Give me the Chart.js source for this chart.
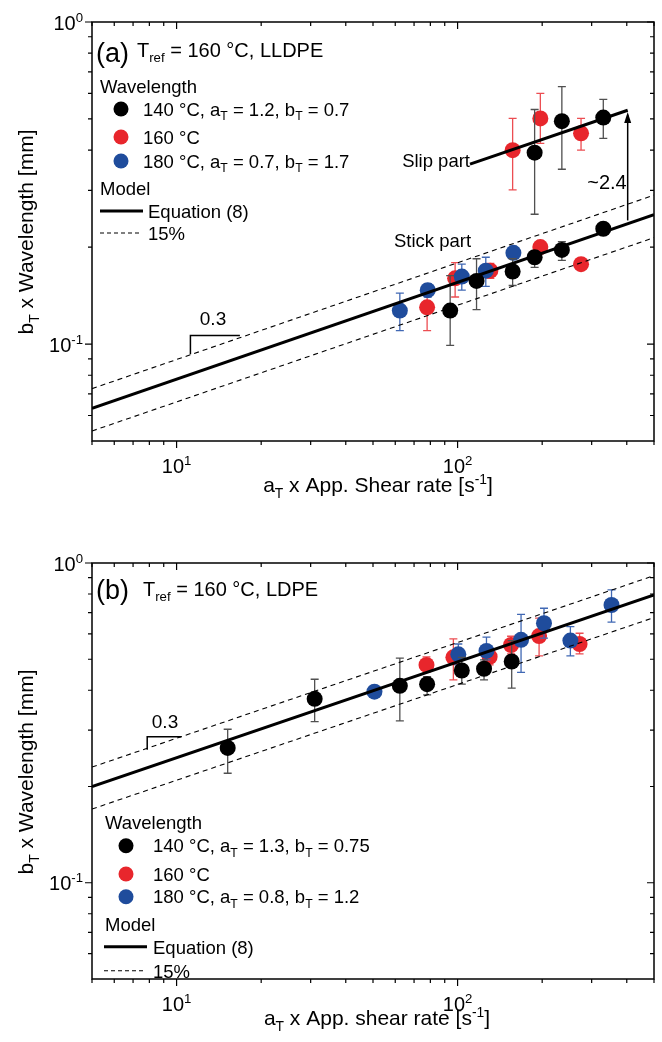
<!DOCTYPE html>
<html>
<head>
<meta charset="utf-8">
<script src="https://cdn.jsdelivr.net/npm/chart.js@4.4.1/dist/chart.umd.min.js"></script>
<style>
  body { margin: 0; background: #fff; }
  canvas { position: absolute; left: 0; }
  #chartA { top: 0; }
  #chartB { top: 520px; }
</style>
</head>
<body>
<canvas id="chartA" width="662" height="520"></canvas>
<canvas id="chartB" width="662" height="522"></canvas>
<script>
// ---- shared axes ----
const xMin = 5, xMax = 500;
const yMin = 0.05, yMax = 1;
const xMajor = [10, 100];
const xMajorExp = ['1', '2'];
const xMinor = [5, 6, 7, 8, 9, 20, 30, 40, 50, 60, 70, 80, 90, 200, 300, 400, 500];
const yMajor = [0.1, 1];
const yMajorExp = ['-1', '0'];
const yMinor = [0.06, 0.07, 0.08, 0.09, 0.2, 0.3, 0.4, 0.5, 0.6, 0.7, 0.8, 0.9];

// ---- panel (a) LLDPE ----
const a140X  = [94.1, 116.8, 157, 188, 235, 330, 188, 235, 330];
const a140Y  = [0.127, 0.157, 0.168, 0.186, 0.196, 0.228, 0.393, 0.492, 0.505];
const a140Lo = [0.099, 0.128, 0.152, 0.173, 0.182, null, 0.253, 0.349, 0.435];
const a140Hi = [0.163, 0.184, 0.184, 0.195, 0.208, null, 0.535, 0.630, 0.575];

const a160X  = [77.9, 98, 130.8, 197, 275, 157, 197, 275];
const a160Y  = [0.130, 0.160, 0.169, 0.200, 0.177, 0.400, 0.502, 0.451];
const a160Lo = [0.110, 0.140, 0.160, null, null, 0.301, 0.420, 0.400];
const a160Hi = [0.146, 0.179, 0.178, null, null, 0.502, 0.600, 0.502];

const a180X  = [62.3, 78.3, 103.5, 126, 158];
const a180Y  = [0.127, 0.147, 0.162, 0.169, 0.192];
const a180Lo = [0.110, 0.140, 0.147, 0.151, 0.186];
const a180Hi = [0.144, 0.154, 0.177, 0.186, 0.197];

const modelX  = [5, 500];
const aEqY    = [0.0632, 0.252];
const aUpY    = [0.0727, 0.290];
const aLowY   = [0.0537, 0.214];
const aSlipX  = [110.7, 403];
const aSlipY  = [0.362, 0.532];
const aArrowX = [403, 403];
const aArrowY = [0.242, 0.515];
const aSlopeX = [11.2, 11.2, 16.8];
const aSlopeY = [0.0929, 0.1064, 0.1064];

// ---- panel (b) LDPE ----
const b140X  = [15.2, 31.0, 62.3, 77.9, 103.5, 124.2, 155.8];
const b140Y  = [0.264, 0.376, 0.413, 0.418, 0.461, 0.467, 0.492];
const b140Lo = [0.220, 0.319, 0.321, 0.387, 0.418, 0.431, 0.406];
const b140Hi = [0.302, 0.433, 0.504, 0.441, 0.507, 0.498, 0.572];

const b160X  = [77.5, 96.6, 130, 155, 195, 271.7];
const b160Y  = [0.480, 0.507, 0.509, 0.554, 0.591, 0.558];
const b160Lo = [0.455, 0.431, 0.480, 0.520, 0.512, 0.520];
const b160Hi = [0.509, 0.579, 0.540, 0.590, 0.672, 0.603];

const b180X  = [50.6, 100.6, 126.7, 168.2, 203, 252, 353];
const b180Y  = [0.396, 0.518, 0.531, 0.575, 0.648, 0.572, 0.739];
const b180Lo = [null, 0.480, 0.498, 0.455, 0.582, 0.512, 0.653];
const b180Hi = [null, 0.558, 0.586, 0.691, 0.722, 0.632, 0.824];

const bEqY    = [0.200, 0.794];
const bUpY    = [0.230, 0.913];
const bLowY   = [0.170, 0.675];
const bSlopeX = [7.86, 7.86, 10.4];
const bSlopeY = [0.2604, 0.2864, 0.2864];

// ---- styling ----
const FONT = "'Liberation Sans', Arial, Helvetica, sans-serif";
const BLACK = '#000000', RED = '#e8262c', BLUE = '#1f4c9c';
const BAR_BLACK = '#505050', BAR_RED = '#ec4d52', BAR_BLUE = '#4068b4';

Chart.defaults.font.family = FONT;
Chart.defaults.color = '#000';

function pts(xs, ys) {
    return xs.map((x, i) => ({ x: x, y: ys[i] }));
}

function scatterSet(xs, ys, lo, hi, color, barColor, order) {
    return {
        data: pts(xs, ys),
        backgroundColor: color,
        borderColor: color,
        pointRadius: 8,
        pointHoverRadius: 8,
        pointBorderWidth: 0,
        order: order,
        errLo: lo,
        errHi: hi,
        barColor: barColor
    };
}

function lineSet(xs, ys, width, dash, order) {
    return {
        data: pts(xs, ys),
        showLine: true,
        borderColor: '#000',
        borderWidth: width,
        borderDash: dash || [],
        pointRadius: 0,
        pointHoverRadius: 0,
        order: order
    };
}

// draw text made of pieces: [text, ''|'sub'|'sup']
function rich(ctx, parts, x, y, size, align) {
    const small = size * 0.66;
    let w = 0;
    parts.forEach(p => {
        ctx.font = (p[1] ? small : size) + 'px ' + FONT;
        w += ctx.measureText(p[0]).width;
    });
    let cx = align === 'center' ? x - w / 2 : (align === 'right' ? x - w : x);
    ctx.textAlign = 'left';
    ctx.textBaseline = 'alphabetic';
    parts.forEach(p => {
        ctx.font = (p[1] ? small : size) + 'px ' + FONT;
        const dy = p[1] === 'sub' ? size * 0.27 : (p[1] === 'sup' ? -size * 0.4 : 0);
        ctx.fillText(p[0], cx, y + dy);
        cx += ctx.measureText(p[0]).width;
    });
}

// error bars sit under each series' own markers
const errorBars = {
    id: 'errorBars',
    beforeDatasetDraw(chart, args) {
        const ds = chart.data.datasets[args.index];
        if (!ds.errLo) return;
        const ctx = chart.ctx, xs = chart.scales.x, ys = chart.scales.y;
        ctx.save();
        ctx.strokeStyle = ds.barColor;
        ctx.lineWidth = 1.3;
        ds.data.forEach((p, i) => {
            if (ds.errLo[i] == null) return;
            const px = xs.getPixelForValue(p.x);
            const top = ys.getPixelForValue(ds.errHi[i]);
            const bot = ys.getPixelForValue(ds.errLo[i]);
            ctx.beginPath();
            ctx.moveTo(px, top); ctx.lineTo(px, bot);
            ctx.moveTo(px - 4, top); ctx.lineTo(px + 4, top);
            ctx.moveTo(px - 4, bot); ctx.lineTo(px + 4, bot);
            ctx.stroke();
        });
        ctx.restore();
    }
};

// frame, ticks, labels, legend and notes
function decoPlugin(deco) {
    return {
        id: 'deco',
        afterDraw(chart) {
            const ctx = chart.ctx, a = chart.chartArea;
            const xs = chart.scales.x, ys = chart.scales.y;
            ctx.save();
            ctx.fillStyle = '#000';
            ctx.strokeStyle = '#000';

            // frame
            ctx.lineWidth = 1.5;
            ctx.strokeRect(a.left, a.top, a.right - a.left, a.bottom - a.top);

            // ticks
            ctx.lineWidth = 1.2;
            const tick = (vals, len) => {
                vals.forEach(v => {
                    const px = xs.getPixelForValue(v);
                    ctx.beginPath();
                    ctx.moveTo(px, a.bottom); ctx.lineTo(px, a.bottom + len);
                    ctx.moveTo(px, a.top); ctx.lineTo(px, a.top + len);
                    ctx.stroke();
                });
            };
            const ytick = (vals, len) => {
                vals.forEach(v => {
                    const py = ys.getPixelForValue(v);
                    ctx.beginPath();
                    ctx.moveTo(a.left, py); ctx.lineTo(a.left - len, py);
                    ctx.moveTo(a.right, py); ctx.lineTo(a.right - len, py);
                    ctx.stroke();
                });
            };
            tick(xMajor, 7); tick(xMinor, 4);
            ytick(yMajor, 7); ytick(yMinor, 4);

            // tick labels
            xMajor.forEach((v, i) => {
                rich(ctx, [['10', ''], [xMajorExp[i], 'sup']], xs.getPixelForValue(v), a.bottom + 32, 20, 'center');
            });
            yMajor.forEach((v, i) => {
                rich(ctx, [['10', ''], [yMajorExp[i], 'sup']], a.left - 9, ys.getPixelForValue(v) + 7.5, 20, 'right');
            });

            // axis titles
            rich(ctx, deco.xTitle, deco.xTitlePos[0], deco.xTitlePos[1], 21, 'center');
            ctx.save();
            ctx.translate(33, deco.yTitleMid);
            ctx.rotate(-Math.PI / 2);
            rich(ctx, [['b', ''], ['T', 'sub'], [' x Wavelength [mm]', '']], 0, 0, 21, 'center');
            ctx.restore();

            // panel label and header
            rich(ctx, [[deco.panel, '']], deco.panelPos[0], deco.panelPos[1], 27, 'left');
            rich(ctx, [['T', ''], ['ref', 'sub'], [deco.header, '']], deco.headerPos[0], deco.headerPos[1], 20, 'left');

            // legend
            const L = deco.legend;
            rich(ctx, [['Wavelength', '']], L.x, L.headY, 18.5, 'left');
            L.items.forEach((it, i) => {
                ctx.fillStyle = it.color;
                ctx.beginPath();
                ctx.arc(L.dotX, L.rowY[i], 7.5, 0, Math.PI * 2);
                ctx.fill();
                ctx.fillStyle = '#000';
                rich(ctx, it.text, L.textX, L.rowY[i] + 6.5, 18.5, 'left');
            });
            rich(ctx, [['Model', '']], L.x, L.modelY, 18.5, 'left');
            ctx.lineWidth = 3;
            ctx.beginPath();
            ctx.moveTo(L.lineX[0], L.solidY); ctx.lineTo(L.lineX[1], L.solidY);
            ctx.stroke();
            ctx.lineWidth = 1.1;
            ctx.setLineDash([4, 3]);
            ctx.beginPath();
            ctx.moveTo(L.lineX[0], L.dashY); ctx.lineTo(L.lineX[1] - 3, L.dashY);
            ctx.stroke();
            ctx.setLineDash([]);
            rich(ctx, [['Equation (8)', '']], L.lineTextX, L.solidY + 7, 18.5, 'left');
            rich(ctx, [['15%', '']], L.lineTextX, L.dashY + 7, 18.5, 'left');

            // notes
            deco.notes.forEach(n => rich(ctx, [[n.t, '']], n.x, n.y, n.size || 18.5, n.align));

            // arrow head
            if (deco.arrowTip) {
                const px = xs.getPixelForValue(deco.arrowTip[0]);
                const py = ys.getPixelForValue(deco.arrowTip[1]);
                ctx.beginPath();
                ctx.moveTo(px, py);
                ctx.lineTo(px - 3.5, py + 11);
                ctx.lineTo(px + 3.5, py + 11);
                ctx.closePath();
                ctx.fill();
            }
            ctx.restore();
        }
    };
}

function makeChart(id, datasets, padTop, xHeight, deco) {
    return new Chart(document.getElementById(id), {
        type: 'scatter',
        data: { datasets: datasets },
        options: {
            responsive: false,
            animation: false,
            devicePixelRatio: 1,
            layout: { padding: { top: padTop, right: 2, left: 0, bottom: 0 } },
            plugins: { legend: { display: false }, tooltip: { enabled: false } },
            scales: {
                x: {
                    type: 'logarithmic', min: xMin, max: xMax,
                    ticks: { display: false }, grid: { display: false }, border: { display: false },
                    afterFit: s => { s.height = xHeight; }
                },
                y: {
                    type: 'logarithmic', min: yMin, max: yMax,
                    ticks: { display: false }, grid: { display: false }, border: { display: false },
                    afterFit: s => { s.width = 92; }
                }
            }
        },
        plugins: [errorBars, decoPlugin(deco)]
    });
}

// ---- panel (a) ----
makeChart('chartA', [
    lineSet(modelX, aEqY, 3, null, 0),
    lineSet(modelX, aUpY, 1.1, [5, 4], 0),
    lineSet(modelX, aLowY, 1.1, [5, 4], 0),
    lineSet(aSlipX, aSlipY, 3, null, 0),
    lineSet(aArrowX, aArrowY, 1.5, null, 0),
    lineSet(aSlopeX, aSlopeY, 1.5, null, 0),
    scatterSet(a140X, a140Y, a140Lo, a140Hi, BLACK, BAR_BLACK, 1),
    scatterSet(a180X, a180Y, a180Lo, a180Hi, BLUE, BAR_BLUE, 2),
    scatterSet(a160X, a160Y, a160Lo, a160Hi, RED, BAR_RED, 3)
], 22, 79, {
    panel: '(a)', panelPos: [96, 62],
    header: ' = 160 °C, LLDPE', headerPos: [137, 57],
    xTitle: [['a', ''], ['T', 'sub'], [' x App. Shear rate [s', ''], ['-1', 'sup'], [']', '']],
    xTitlePos: [378, 492],
    yTitleMid: 232,
    legend: {
        x: 100, headY: 93, dotX: 121, textX: 143, rowY: [109, 137, 161],
        items: [
            { color: BLACK, text: [['140 °C, a', ''], ['T', 'sub'], [' = 1.2, b', ''], ['T', 'sub'], [' = 0.7', '']] },
            { color: RED, text: [['160 °C', '']] },
            { color: BLUE, text: [['180 °C, a', ''], ['T', 'sub'], [' = 0.7, b', ''], ['T', 'sub'], [' = 1.7', '']] }
        ],
        modelY: 195, lineX: [100, 143], solidY: 211, dashY: 233, lineTextX: 148
    },
    notes: [
        { t: 'Slip part', x: 470, y: 167, align: 'right' },
        { t: 'Stick part', x: 394, y: 247, align: 'left' },
        { t: '~2.4', x: 607, y: 189, align: 'center', size: 20 },
        { t: '0.3', x: 213, y: 325, align: 'center', size: 19 }
    ],
    arrowTip: [403, 0.525]
});

// ---- panel (b) ----
makeChart('chartB', [
    lineSet(modelX, bEqY, 3, null, 0),
    lineSet(modelX, bUpY, 1.1, [5, 4], 0),
    lineSet(modelX, bLowY, 1.1, [5, 4], 0),
    lineSet(bSlopeX, bSlopeY, 1.5, null, 0),
    scatterSet(b140X, b140Y, b140Lo, b140Hi, BLACK, BAR_BLACK, 1),
    scatterSet(b180X, b180Y, b180Lo, b180Hi, BLUE, BAR_BLUE, 2),
    scatterSet(b160X, b160Y, b160Lo, b160Hi, RED, BAR_RED, 3)
], 43, 63, {
    panel: '(b)', panelPos: [96, 79],
    header: ' = 160 °C, LDPE', headerPos: [143, 76],
    xTitle: [['a', ''], ['T', 'sub'], [' x App. shear rate [s', ''], ['-1', 'sup'], [']', '']],
    xTitlePos: [377, 505],
    yTitleMid: 252,
    legend: {
        x: 105, headY: 309, dotX: 126, textX: 153, rowY: [325.7, 354, 376.7],
        items: [
            { color: BLACK, text: [['140 °C, a', ''], ['T', 'sub'], [' = 1.3, b', ''], ['T', 'sub'], [' = 0.75', '']] },
            { color: RED, text: [['160 °C', '']] },
            { color: BLUE, text: [['180 °C, a', ''], ['T', 'sub'], [' = 0.8, b', ''], ['T', 'sub'], [' = 1.2', '']] }
        ],
        modelY: 411, lineX: [104, 147], solidY: 426.7, dashY: 450.7, lineTextX: 153
    },
    notes: [
        { t: '0.3', x: 165, y: 208, align: 'center', size: 19 }
    ],
    arrowTip: null
});
</script>
</body>
</html>
